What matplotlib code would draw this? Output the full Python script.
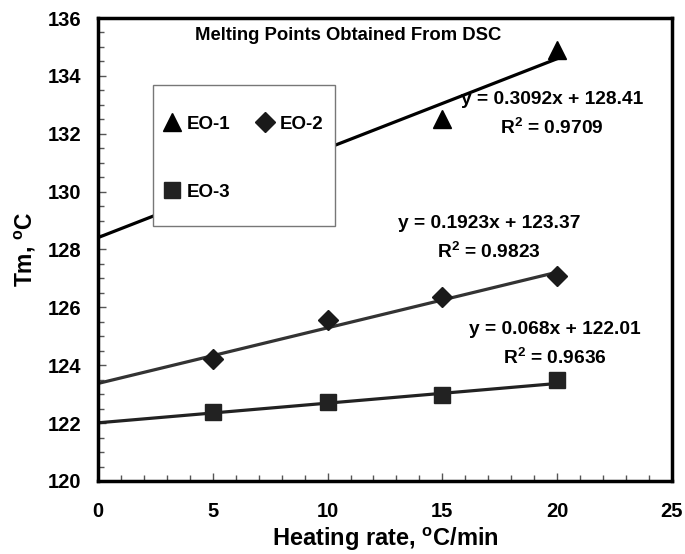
import matplotlib
matplotlib.use("Agg")
import numpy as np
import matplotlib.pyplot as plt
from matplotlib.patches import Rectangle

plt.rcParams['font.family'] = ['Liberation Sans', 'DejaVu Sans']
plt.rcParams['font.weight'] = 'bold'
plt.rcParams['mathtext.fontset'] = 'custom'
plt.rcParams['mathtext.rm'] = 'Liberation Sans:bold'
plt.rcParams['mathtext.bf'] = 'Liberation Sans:bold'

# heating rates (C/min) and melting points from DSC
rate_eo1 = [5, 15, 20]
tm_eo1 = [130.1, 132.5, 134.9]
rate = [5, 10, 15, 20]
tm_eo2 = [124.2, 125.55, 126.35, 127.1]
tm_eo3 = [122.4, 122.72, 122.97, 123.5]

# linear trendlines: slope, intercept, R^2
fit_eo1 = (0.3092, 128.41, 0.9709)
fit_eo2 = (0.1923, 123.37, 0.9823)
fit_eo3 = (0.068, 122.01, 0.9636)

fig = plt.figure(figsize=(6.85, 5.54), dpi=100)
ax = fig.add_axes([0.143, 0.1318, 0.838, 0.8357])

xfit = np.array([0, 20])
series = [
    ("EO-1", rate_eo1, tm_eo1, fit_eo1, '^', 13, '#000000', '#000000'),
    ("EO-2", rate, tm_eo2, fit_eo2, 'D', 10.5, '#1a1a1a', '#333333'),
    ("EO-3", rate, tm_eo3, fit_eo3, 's', 11.5, '#222222', '#222222'),
]
handles = {}
for name, x, y, fit, mk, ms, mc, lc in series:
    ax.plot(xfit, fit[0] * xfit + fit[1], color=lc, lw=2.3, zorder=2)
    h, = ax.plot(x, y, ls='none', marker=mk, ms=ms, color=mc, zorder=3, label=name)
    handles[name] = h

# equation labels
eq_pos = [(fit_eo1, 19.77, 133.17, 132.21),
          (fit_eo2, 17.03, 128.9, 127.93),
          (fit_eo3, 19.9, 125.24, 124.28)]
for fit, xt, ye, yr in eq_pos:
    ax.text(xt, ye, f"y = {fit[0]:g}x + {fit[1]:.2f}", ha='center', va='center',
            fontsize=13.8, fontweight='bold', zorder=6)
    ax.text(xt, yr, f"R$^{{2}}$ = {fit[2]:.4f}", ha='center', va='center',
            fontsize=13.8, fontweight='bold', zorder=6)

ax.text(0.4355, 0.963, "Melting Points Obtained From DSC", transform=ax.transAxes,
        ha='center', va='center', fontsize=13.3, fontweight='bold')

# legend box
ax.add_patch(Rectangle((0.0958, 0.551), 0.317, 0.304, transform=ax.transAxes,
                       facecolor='white', edgecolor='#777777', lw=1.0, zorder=4))
ax.legend([handles["EO-1"], handles["EO-3"], handles["EO-2"]], ["EO-1", "EO-3", "EO-2"],
          ncol=2, loc='upper left', bbox_to_anchor=(0.113, 0.789), borderaxespad=0,
          borderpad=0, frameon=False, labelspacing=2.7,
          handlelength=1.0, handletextpad=0.3, columnspacing=1.3,
          prop={'weight': 'bold', 'size': 13.5}).set_zorder(5)

ax.set_xlim(0, 25)
ax.set_ylim(120, 136)
ax.set_xticks(np.arange(0, 26, 5))
ax.set_yticks(np.arange(120, 137, 2))
ax.set_xticks(np.arange(0, 26, 1), minor=True)
ax.set_yticks(np.arange(120, 136.1, 0.5), minor=True)
ax.tick_params(which='both', direction='in', width=1, color='#555555')
ax.tick_params(which='major', length=6, labelsize=14.5)
ax.tick_params(axis='x', which='major', pad=15)
ax.tick_params(axis='y', which='major', pad=12)
ax.tick_params(which='minor', length=4)
for lab in ax.get_xticklabels() + ax.get_yticklabels():
    lab.set_fontweight('bold')
for sp in ax.spines.values():
    sp.set_linewidth(2.5)

ax.set_xlabel(r"Heating rate, $^{\mathbf{o}}$C/min", fontsize=17, fontweight='bold', labelpad=3)
ax.set_ylabel(r"Tm, $^{\mathbf{o}}$C", fontsize=16.5, fontweight='bold', labelpad=7)

fig.savefig("out.png", dpi=100)
